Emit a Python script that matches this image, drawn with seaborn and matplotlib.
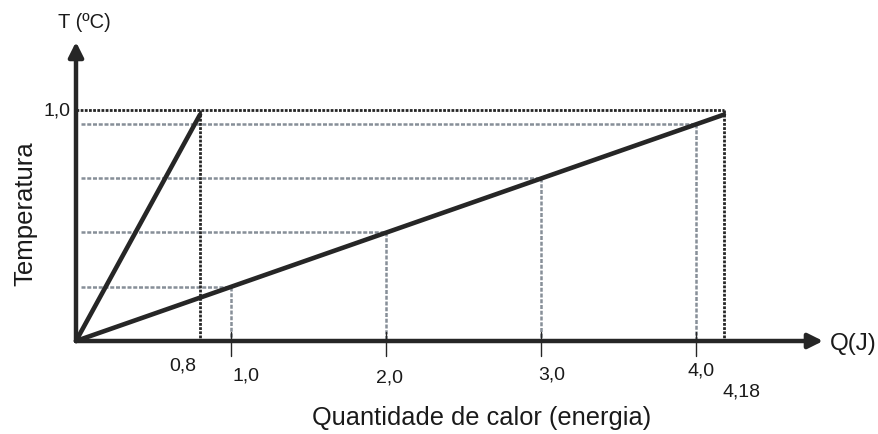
import matplotlib
matplotlib.use("Agg")
import matplotlib.pyplot as plt
import seaborn as sns
import pandas as pd

# ---- data ----
line_names = ["rápida", "lenta"]
q_end = [0.8, 4.18]          # energia no fim de cada reta (J)
t_end = [0.98, 0.98]         # temperatura no fim de cada reta
guide_q = [1.0, 2.0, 3.0, 4.0]
guide_t = [0.235, 0.47, 0.705, 0.94]
top_t = 1.0
tick_values = [0.8, 1.0, 2.0, 3.0, 4.0, 4.18]
tick_labels = ["0,8", "1,0", "2,0", "3,0", "4,0", "4,18"]
major_ticks = [1.0, 2.0, 3.0, 4.0]

sns.set_theme(style="white")
plt.rcParams["font.family"] = ["Liberation Sans", "DejaVu Sans"]

fig = plt.figure(figsize=(8.79, 4.34), dpi=100)
ax = fig.add_axes([0, 0, 1, 1])
ax.set_xlim(-76 / 155, (879 - 76) / 155)
ax.set_ylim(-93 / 231, (434 - 93) / 231)
ax.axis("off")

dark = "#262626"
gray = "#878f98"
txt = "#1a1a1a"

# guides (gray, fine dashed)
for q, t in zip(guide_q, guide_t):
    ax.plot([0.03, q], [t, t], color=gray, lw=1.8, ls=(0, (1.6, 0.7)), zorder=1)
    ax.plot([q, q], [t, 0], color=gray, lw=1.8, ls=(0, (1.6, 0.7)), zorder=1)

# dark dotted guides at T = 1,0
ax.plot([0.0, q_end[1]], [top_t, top_t], color=dark, lw=2.0, ls=(0, (1.0, 0.5)), zorder=1)
for q in q_end:
    ax.plot([q, q], [top_t, 0], color=dark, lw=2.0, ls=(0, (1.0, 0.5)), zorder=1)

# main lines via seaborn
rows = []
for name, q, t in zip(line_names, q_end, t_end):
    rows.append({"serie": name, "Q": 0.0, "T": 0.0})
    rows.append({"serie": name, "Q": q, "T": t})
df = pd.DataFrame(rows)
sns.lineplot(data=df, x="Q", y="T", units="serie", estimator=None,
             color=dark, lw=3.3, ax=ax, zorder=3, legend=False)

# axes with arrows
ax.annotate("", xy=(4.82, 0), xytext=(0, 0),
            arrowprops=dict(arrowstyle="-|>", lw=3.2, color=dark,
                            mutation_scale=22, shrinkA=0, shrinkB=0), zorder=4)
ax.annotate("", xy=(0, 1.295), xytext=(0, 0),
            arrowprops=dict(arrowstyle="-|>", lw=3.2, color=dark,
                            mutation_scale=22, shrinkA=0, shrinkB=0), zorder=4)

# small tick marks on the Q axis
for q in major_ticks:
    ax.plot([q, q], [0.04, -0.065], color=dark, lw=1.0, zorder=4)

# tick labels (staggered like the original)
offsets = [(-17, -25), (15, -35), (4, -37), (11, -34), (5, -30), (18, -51)]
for v, lab, (dx, dy) in zip(tick_values, tick_labels, offsets):
    ax.annotate(lab, xy=(v, 0), xytext=(dx, dy), textcoords="offset pixels",
                ha="center", va="center", fontsize=14, color=txt)

ax.annotate("1,0", xy=(0, top_t), xytext=(-19, -1), textcoords="offset pixels",
            ha="center", va="center", fontsize=14, color=txt)

# titles
ax.text((84 - 76) / 155, (341 - 22) / 231, "T (ºC)", ha="center", va="center",
        fontsize=14.5, color=txt)
ax.annotate("Q(J)", xy=(4.82, 0), xytext=(7, -3), textcoords="offset pixels",
            ha="left", va="center", fontsize=17.5, color=txt)
ax.text((25 - 76) / 155, (341 - 214) / 231, "Temperatura", rotation=90,
        ha="center", va="center", fontsize=18.5, color=txt)
ax.text((482 - 76) / 155, (341 - 425) / 231, "Quantidade de calor (energia)",
        ha="center", va="baseline", fontsize=18.3, color=txt)

fig.savefig("out.png", dpi=100)
